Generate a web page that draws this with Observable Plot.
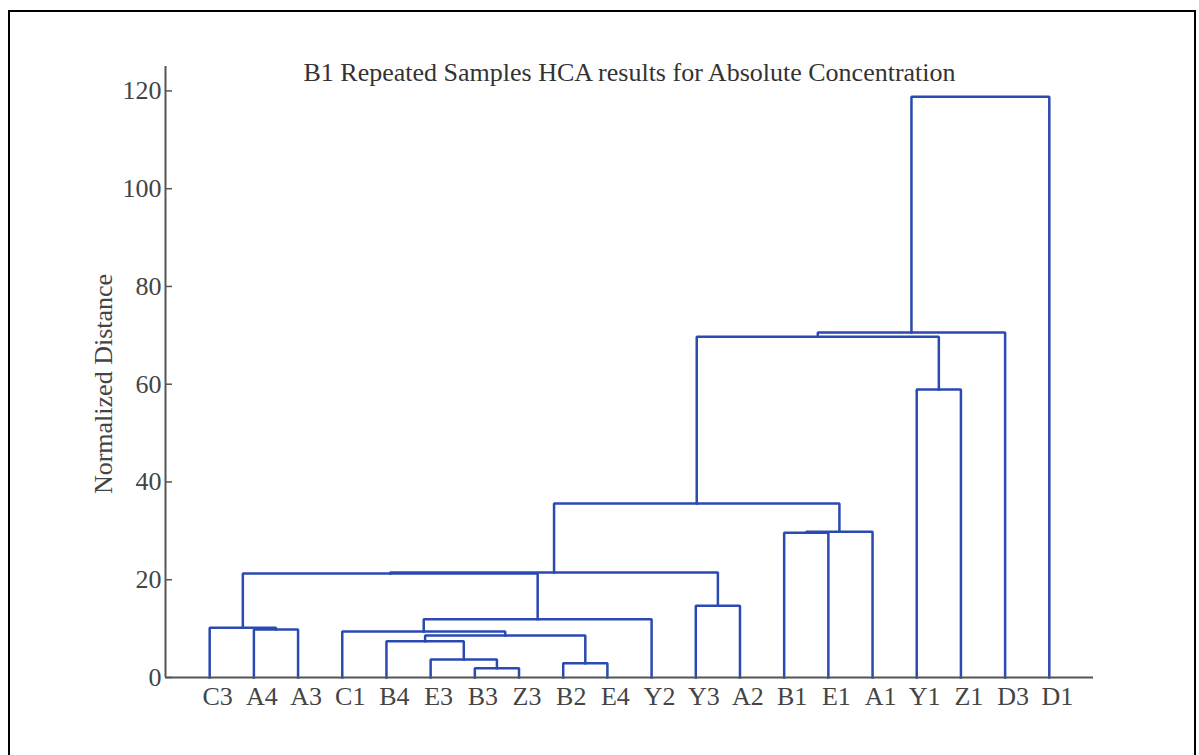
<!DOCTYPE html>
<html><head><meta charset="utf-8">
<script src="https://cdn.jsdelivr.net/npm/d3@7"></script>
<script src="https://cdn.jsdelivr.net/npm/@observablehq/plot@0.6"></script>
<style>
html,body{margin:0;padding:0;background:#fff;overflow:hidden;}
#frame{position:absolute;left:8px;top:10px;width:1184px;height:780px;border:2px solid #000;}
#chart{position:absolute;left:0;top:0;}
</style></head><body>
<div id="frame"></div>
<div id="chart"></div>
<script>
const title = "B1 Repeated Samples HCA results for Absolute Concentration";
const yLabel = "Normalized Distance";
const leaves = ["C3","A4","A3","C1","B4","E3","B3","Z3","B2","E4","Y2","Y3","A2","B1","E1","A1","Y1","Z1","D3","D1"];
// merges (MATLAB-linkage style): m1..m19
const mergeLeft   = ["B3","E3","B4","B2","m3","C1","m6","A4","C3","m9","Y3","m10","B1","m13","m12","Y1","m15","m17","m18"];
const mergeRight  = ["Z3","m1","m2","E4","m4","m5","Y2","A3","m8","m7","A2","m11","E1","A1","m14","Z1","m16","D3","D1"];
const mergeHeight = [1.9, 3.7, 7.4, 2.9, 8.6, 9.4, 11.9, 9.8, 10.2, 21.3, 14.7, 21.5, 29.6, 29.8, 35.6, 58.9, 69.7, 70.6, 118.8];
const yTicks = [0, 20, 40, 60, 80, 100, 120];

const pos = new Map(leaves.map((d, i) => [d, i]));
const hgt = new Map(leaves.map(d => [d, 0]));
const segs = [];
mergeHeight.forEach((h, i) => {
  const id = "m" + (i + 1);
  const l = mergeLeft[i], r = mergeRight[i];
  const xl = pos.get(l), xr = pos.get(r);
  segs.push({id, x: xl, y: hgt.get(l)}, {id, x: xl, y: h}, {id, x: xr, y: h}, {id, x: xr, y: hgt.get(r)});
  pos.set(id, (xl + xr) / 2);
  hgt.set(id, h);
});

const chart = Plot.plot({
  width: 1199, height: 755,
  marginTop: 66, marginBottom: 78, marginLeft: 165, marginRight: 106,
  style: {fontFamily: '"Liberation Serif", "Times New Roman", serif', fontSize: "26px", color: "#444", background: "transparent"},
  x: {domain: [-1, 20], label: null},
  y: {domain: [0, 125], label: null},
  marks: [
    Plot.line(segs, {x: "x", y: "y", z: "id", stroke: "#2a4ab2", strokeWidth: 2.5, strokeLinejoin: "miter", strokeLinecap: "square"}),
    Plot.ruleX([-1], {stroke: "#555", strokeWidth: 2}),
    Plot.ruleY([0], {stroke: "#555", strokeWidth: 2}),
    Plot.axisY(yTicks, {tickSize: 7, dx: 7, tickFormat: () => "", stroke: "#555", strokeWidth: 1.5, label: null}),
    Plot.axisY(yTicks, {tickSize: 0, tickPadding: 4, fontSize: 26, fill: "#444", label: null}),
    Plot.axisX(d3.range(leaves.length), {tickSize: 0, tickPadding: 9, tickFormat: i => leaves[i], dx: 8, fontSize: 26, fill: "#444", label: null}),
    Plot.text([title], {frameAnchor: "top", lineAnchor: "top", dy: -4, fontSize: 26, fill: "#333"}),
    Plot.text([yLabel], {frameAnchor: "left", textAnchor: "middle", rotate: -90, dx: -62, dy: 12, fontSize: 26, fill: "#444"})
  ]
});
document.getElementById("chart").appendChild(chart);
</script></body></html>
